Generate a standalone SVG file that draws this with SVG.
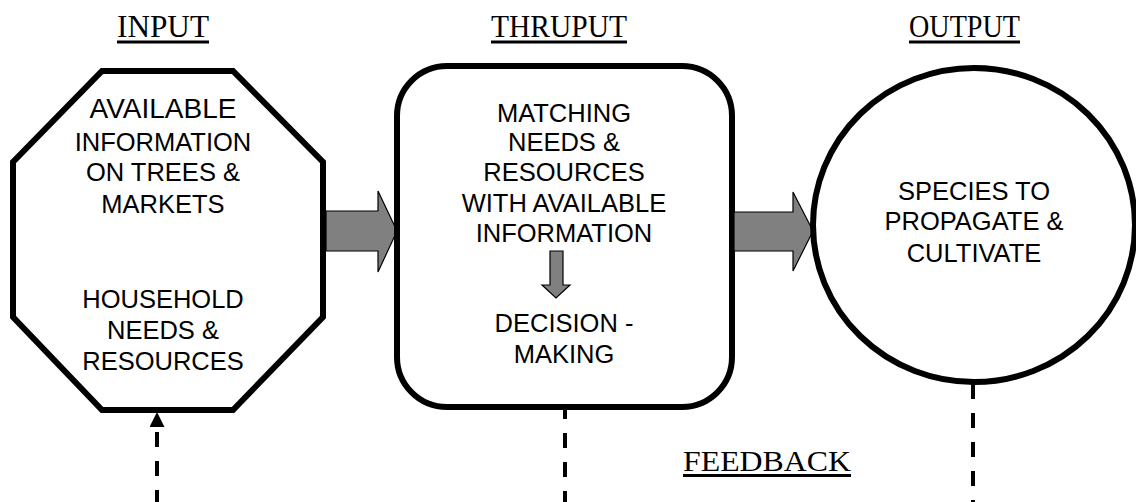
<svg xmlns="http://www.w3.org/2000/svg" width="1136" height="502" viewBox="0 0 1136 502">
  <style>
    .head { font-family: "Liberation Serif", "Times New Roman", serif; font-size: 32px; fill: #000; }
    .uline { stroke: #000; stroke-width: 3; }
    .label { font-family: "Liberation Sans", Arial, sans-serif; font-size: 25.5px; fill: #000; text-anchor: middle; }
    .shape { fill: #fff; stroke: #000; stroke-width: 6; }
    .flow { fill: #808080; stroke: #000; stroke-width: 1.2; stroke-linejoin: miter; }
    .dash { fill: none; stroke: #000; stroke-width: 4; stroke-dasharray: 15 14; }
  </style>
  <defs>
    <marker id="tri" viewBox="0 0 10 10" refX="0" refY="5" markerUnits="userSpaceOnUse" markerWidth="15" markerHeight="15" orient="auto">
      <path d="M0,0 L10,5 L0,10 Z" fill="#000"/>
    </marker>
  </defs>

  <rect width="1136" height="502" fill="#fff"/>

  <!-- column headings -->
  <g id="headings">
    <text class="head" x="117" y="37" textLength="92" lengthAdjust="spacingAndGlyphs">INPUT</text>
    <line class="uline" x1="117" y1="42" x2="209" y2="42"/>
    <text class="head" x="491" y="37" textLength="136" lengthAdjust="spacingAndGlyphs">THRUPUT</text>
    <line class="uline" x1="491" y1="42" x2="627" y2="42"/>
    <text class="head" x="909" y="37" textLength="111" lengthAdjust="spacingAndGlyphs">OUTPUT</text>
    <line class="uline" x1="909" y1="42" x2="1020" y2="42"/>
  </g>

  <!-- feedback connectors -->
  <g id="connectors">
    <path class="dash" d="M565,404 V505"/>
    <path class="dash" d="M973,384 V505"/>
    <path class="dash" d="M157,505 V427" marker-end="url(#tri)"/>
  </g>

  <g id="feedback-label">
    <text class="head" x="683" y="471" textLength="168" lengthAdjust="spacingAndGlyphs" style="font-size:30px">FEEDBACK</text>
    <line class="uline" x1="683" y1="475.5" x2="851" y2="475.5"/>
  </g>

  <!-- input node -->
  <g id="input">
    <polygon class="shape" points="102,71 233,71 323,162 323,317 233,410 102,410 13,317 13,162"/>
    <text class="label" x="163" y="118" style="font-size:28px">AVAILABLE</text>
    <text class="label" x="163" y="151">INFORMATION</text>
    <text class="label" x="163" y="181">ON TREES &amp;</text>
    <text class="label" x="163" y="213">MARKETS</text>
    <text class="label" x="163" y="308">HOUSEHOLD</text>
    <text class="label" x="163" y="339">NEEDS &amp;</text>
    <text class="label" x="163" y="370">RESOURCES</text>
  </g>

  <!-- arrow input to thruput -->
  <g id="arrow-in">
    <polygon class="flow" points="326,211 378,211 378,191 397,231 378,272 378,251 326,251"/>
  </g>

  <!-- thruput node -->
  <g id="thruput">
    <rect class="shape" x="397" y="66" width="335" height="341" rx="50" ry="50"/>
    <text class="label" x="564" y="122">MATCHING</text>
    <text class="label" x="564" y="151">NEEDS &amp;</text>
    <text class="label" x="564" y="181">RESOURCES</text>
    <text class="label" x="564" y="212">WITH AVAILABLE</text>
    <text class="label" x="564" y="242">INFORMATION</text>
    <polygon class="flow" points="550,251 563,251 563,285 570,285 556,298 542,285 550,285"/>
    <text class="label" x="564" y="332">DECISION -</text>
    <text class="label" x="564" y="363">MAKING</text>
  </g>

  <!-- arrow thruput to output -->
  <g id="arrow-out">
    <polygon class="flow" points="734,212 793,212 793,192 813,231 793,271 793,251 734,251"/>
  </g>

  <!-- output node -->
  <g id="output">
    <ellipse class="shape" cx="974" cy="225" rx="161" ry="157"/>
    <text class="label" x="974" y="200">SPECIES TO</text>
    <text class="label" x="974" y="230">PROPAGATE &amp;</text>
    <text class="label" x="974" y="262">CULTIVATE</text>
  </g>
</svg>
